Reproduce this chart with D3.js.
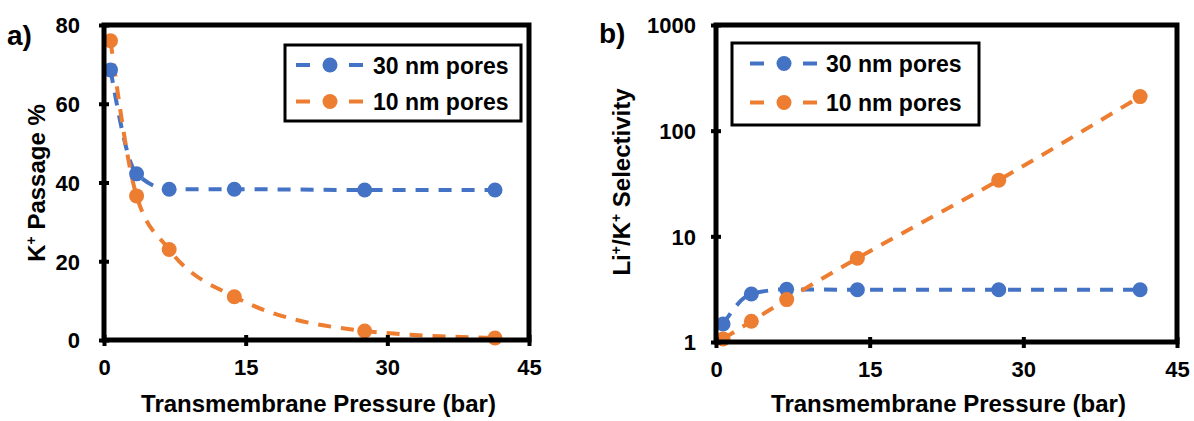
<!DOCTYPE html>
<html>
<head>
<meta charset="utf-8">
<script src="https://cdn.jsdelivr.net/npm/d3@7"></script>
<style>
  html, body { margin: 0; padding: 0; background: #fff; }
  svg { display: block; }
  text { font-family: Arial, "Liberation Sans", sans-serif; font-weight: bold; fill: #000; }
</style>
</head>
<body>
<svg id="chart" width="1194" height="421"></svg>
<script>
// ---- data ----
const pressure = [0.69, 3.45, 6.9, 13.8, 27.6, 41.4];
const passage30 = [68.6, 42.2, 38.3, 38.3, 38.1, 38.1];
const passage10 = [76.0, 36.6, 23.0, 11.0, 2.3, 0.5];
const select30 = [1.48, 2.85, 3.15, 3.12, 3.12, 3.12];
const select10 = [1.07, 1.57, 2.52, 6.2, 34, 210];
const seriesNames = ["30 nm pores", "10 nm pores"];
const xTicks = [0, 15, 30, 45];
const yTicksA = [0, 20, 40, 60, 80];
const yTicksB = [1, 10, 100, 1000];
const seriesColors = ["#4472C4", "#ED7D31"];

const svg = d3.select("#chart");
svg.append("rect").attr("width", 1194).attr("height", 421).attr("fill", "#fff");

function drawPanel(opt) {
  const g = svg.append("g");
  const x = d3.scaleLinear().domain([0, 45]).range([opt.x0, opt.x1]);
  const y = opt.log
    ? d3.scaleLog().domain([1, 1000]).range([opt.y0, opt.y1])
    : d3.scaleLinear().domain([0, 80]).range([opt.y0, opt.y1]);

  // series lines
  const line = d3.line().x(d => x(d[0])).y(d => y(d[1])).curve(d3.curveMonotoneX);
  opt.series.forEach((vals, i) => {
    const pts = pressure.map((p, k) => [p, vals[k]]);
    g.append("path").datum(pts)
      .attr("d", line)
      .attr("fill", "none")
      .attr("stroke", seriesColors[i])
      .attr("stroke-width", 4)
      .attr("stroke-dasharray", "13,10");
  });
  opt.series.forEach((vals, i) => {
    g.selectAll(null).data(pressure.map((p, k) => [p, vals[k]])).enter()
      .append("circle")
      .attr("cx", d => x(d[0])).attr("cy", d => y(d[1]))
      .attr("r", 7.5).attr("fill", seriesColors[i]);
  });

  // frame
  g.append("rect")
    .attr("x", opt.x0).attr("y", opt.y1)
    .attr("width", opt.x1 - opt.x0).attr("height", opt.y0 - opt.y1)
    .attr("fill", "none").attr("stroke", "#000").attr("stroke-width", 5);

  // y axis
  const ya = g.append("g").attr("transform", `translate(${opt.x0},0)`)
    .call(d3.axisLeft(y).tickValues(opt.yTicks).tickFormat(d3.format("d")).tickSize(5).tickPadding(opt.yPad));
  ya.select(".domain").remove();
  ya.selectAll(".tick line").attr("x1", -5).attr("x2", 5).attr("stroke", "#000").attr("stroke-width", 4);
  ya.selectAll(".tick text").style("font-size", "22px").attr("dy", "0.36em");

  // x axis
  const xa = g.append("g").attr("transform", `translate(0,${opt.y0})`)
    .call(d3.axisBottom(x).tickValues(xTicks).tickFormat(d3.format("d")).tickSize(5).tickPadding(14));
  xa.select(".domain").remove();
  xa.selectAll(".tick line").attr("y1", -5).attr("y2", 6).attr("stroke", "#000").attr("stroke-width", 4);
  xa.selectAll(".tick text").style("font-size", "22px");

  // axis titles
  g.append("text")
    .attr("x", (opt.x0 + opt.x1) / 2 + 2).attr("y", 412)
    .attr("text-anchor", "middle").style("font-size", "24px")
    .text("Transmembrane Pressure (bar)");

  const yt = g.append("text")
    .attr("transform", `translate(${opt.yTitleX},${opt.yTitleY}) rotate(-90)`)
    .attr("text-anchor", "middle").style("font-size", "24px");
  let shift = 0;
  opt.yTitle.forEach(part => {
    const ts = yt.append("tspan").text(part.t);
    if (part.sup) {
      ts.attr("dy", -9 - shift).style("font-size", "14px");
      shift = -9;
    } else {
      if (shift !== 0) ts.attr("dy", -shift);
      shift = 0;
    }
  });

  // panel label
  g.append("text").attr("x", opt.labX).attr("y", opt.labY)
    .style("font-size", "28px").text(opt.label);

  // legend
  const L = opt.legend;
  g.append("rect").attr("x", L.x).attr("y", L.y).attr("width", L.w).attr("height", L.h)
    .attr("fill", "#fff").attr("stroke", "#000").attr("stroke-width", 3);
  seriesNames.forEach((name, i) => {
    const cy = L.rows[i];
    const c = seriesColors[i];
    g.append("line").attr("x1", L.s0).attr("x2", L.s0 + 14).attr("y1", cy).attr("y2", cy)
      .attr("stroke", c).attr("stroke-width", 4);
    g.append("circle").attr("cx", L.s0 + 34).attr("cy", cy).attr("r", 7.5).attr("fill", c);
    g.append("line").attr("x1", L.s0 + 53).attr("x2", L.s0 + 67).attr("y1", cy).attr("y2", cy)
      .attr("stroke", c).attr("stroke-width", 4);
    g.append("text").attr("x", L.tx).attr("y", cy + 8.5)
      .style("font-size", "23px").text(name);
  });
}

drawPanel({
  x0: 104, x1: 529, y0: 340, y1: 25, log: false,
  series: [passage30, passage10], yTicks: yTicksA, yPad: 19,
  yTitle: [{t: "K"}, {t: "+", sup: true}, {t: " Passage %"}],
  yTitleX: 45, yTitleY: 183,
  label: "a)", labX: 7, labY: 45,
  legend: {x: 285, y: 45, w: 236, h: 76, rows: [65, 101.5], s0: 296, tx: 373}
});

drawPanel({
  x0: 716, x1: 1177, y0: 342, y1: 25, log: true,
  series: [select30, select10], yTicks: yTicksB, yPad: 15,
  yTitle: [{t: "Li"}, {t: "+", sup: true}, {t: "/K"}, {t: "+", sup: true}, {t: " Selectivity"}],
  yTitleX: 630, yTitleY: 182,
  label: "b)", labX: 599, labY: 43,
  legend: {x: 732, y: 43, w: 247, h: 82, rows: [63.5, 102.5], s0: 750, tx: 826}
});
</script>
</body>
</html>
